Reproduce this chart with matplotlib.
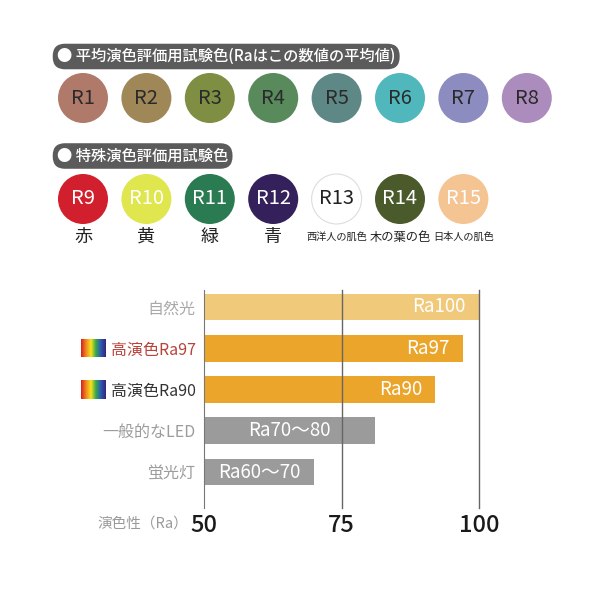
import matplotlib
matplotlib.use("Agg")
import matplotlib.pyplot as plt
from matplotlib.patches import Circle, Rectangle
from matplotlib.colors import LinearSegmentedColormap
from matplotlib.transforms import blended_transform_factory

plt.rcParams["font.family"] = ["Noto Sans CJK JP", "DejaVu Sans"]

# 上段: 平均演色評価用試験色
AVG_TITLE = "● 平均演色評価用試験色(Raはこの数値の平均値)"
AVG_LABELS = ["R1", "R2", "R3", "R4", "R5", "R6", "R7", "R8"]
AVG_COLORS = ["#b07a6a", "#a08758", "#7e8e42", "#588a5c",
              "#5e8886", "#50b8bc", "#8c8cc0", "#ac8cbc"]

# 中段: 特殊演色評価用試験色
SPECIAL_TITLE = "● 特殊演色評価用試験色"
SPECIAL_LABELS = ["R9", "R10", "R11", "R12", "R13", "R14", "R15"]
SPECIAL_COLORS = ["#d11f2d", "#dfe64e", "#2a7a52", "#34205a",
                  "#ffffff", "#4b5a2b", "#f5c493"]
SPECIAL_TEXT = ["white", "white", "white", "white", "#222222", "white", "white"]
SPECIAL_NAMES = ["赤", "黄", "緑", "青", "西洋人の肌色", "木の葉の色", "日本人の肌色"]

# 下段: 演色性の比較
SOURCES = ["自然光", "高演色Ra97", "高演色Ra90", "一般的なLED", "蛍光灯"]
RA_VALUES = [100, 97, 92, 81, 70]
VALUE_LABELS = ["Ra100", "Ra97", "Ra90", "Ra70〜80", "Ra60〜70"]
BAR_COLORS = ["#f1c97a", "#eba52b", "#eba52b", "#9b9b9b", "#9b9b9b"]
SOURCE_COLORS = ["#a9a9a9", "#b8433b", "#333333", "#9c9c9c", "#9c9c9c"]
HAS_RAINBOW = [False, True, True, False, False]
XTICKS = [50, 75, 100]
AXIS_LABEL = "演色性（Ra）"
RAINBOW = ["#d8281e", "#f08c1e", "#f4e21c", "#3aa848", "#2a5cb4", "#36287e"]

GRAY = "#9b9b9b"

fig = plt.figure(figsize=(6, 6), dpi=100)
bg = fig.add_axes([0, 0, 1, 1])
bg.set_xlim(0, 600)
bg.set_ylim(600, 0)
bg.axis("off")

pill = dict(boxstyle="round,pad=0.28,rounding_size=0.8", fc="#5b5b5b", ec="none")

# 上段
bg.text(57, 56.5, AVG_TITLE, color="white", fontsize=11, fontweight="medium",
        ha="left", va="center", bbox=pill)
for i, (lab, col) in enumerate(zip(AVG_LABELS, AVG_COLORS)):
    cx = 83 + 63.4 * i
    bg.add_patch(Circle((cx, 98), 25, fc=col, ec="none"))
    bg.text(cx, 98, lab, color="#2a2a2a", fontsize=14.5, ha="center", va="center")

# 中段
bg.text(57, 156, SPECIAL_TITLE, color="white", fontsize=11, fontweight="medium",
        ha="left", va="center", bbox=pill)
for i, (lab, col, tc, name) in enumerate(zip(SPECIAL_LABELS, SPECIAL_COLORS,
                                             SPECIAL_TEXT, SPECIAL_NAMES)):
    cx = 83 + 63.4 * i
    ec = "#dddddd" if col == "#ffffff" else "none"
    bg.add_patch(Circle((cx, 199), 25, fc=col, ec=ec, lw=0.8))
    bg.text(cx, 199, lab, color=tc, fontsize=14.5, ha="center", va="center")
    fs = 13 if len(name) == 1 else 44 / len(name)
    bg.text(cx, 237, name, color="#222222", fontsize=fs, ha="center", va="center")

# 下段: 棒グラフ
ax = fig.add_axes([204 / 600, 1 - 508 / 600, 275 / 600, 218 / 600])
ax.patch.set_alpha(0)
ypos = list(range(len(SOURCES)))
ax.barh(ypos, [v - 50 for v in RA_VALUES], left=50, height=0.65,
        color=BAR_COLORS, zorder=2)
ax.set_xlim(50, 100)
ax.set_ylim(4.87, -0.41)
for x in XTICKS[1:]:
    ax.axvline(x, color="#666666", lw=1, zorder=3, clip_on=False)
for s in ["top", "right", "bottom"]:
    ax.spines[s].set_visible(False)
ax.spines["left"].set_color("#777777")
ax.spines["left"].set_zorder(3)

ax.set_xticks(XTICKS)
ax.set_xticklabels([str(t) for t in XTICKS], fontsize=17, color="#1a1a1a",
                   fontweight="medium")
ax.set_yticks(ypos)
ax.set_yticklabels(SOURCES, fontsize=11.5)
for tl, c in zip(ax.get_yticklabels(), SOURCE_COLORS):
    tl.set_color(c)
ax.tick_params(axis="x", length=0, pad=4)
ax.tick_params(axis="y", length=0, pad=6)

for i, (v, lab, col) in enumerate(zip(RA_VALUES, VALUE_LABELS, BAR_COLORS)):
    if col == GRAY:
        ax.text((50 + v) / 2, i, lab, color="white", fontsize=13.5,
                ha="center", va="center", zorder=4)
    else:
        ax.annotate(lab, (v, i), xytext=(-13, 0), textcoords="offset pixels",
                    color="white", fontsize=13.5, ha="right", va="center", zorder=4)

# 虹色アイコン
cmap = LinearSegmentedColormap.from_list("rainbow_icon", RAINBOW)
blend = blended_transform_factory(bg.transData, ax.transData)
for i, flag in enumerate(HAS_RAINBOW):
    if not flag:
        continue
    for k in range(25):
        bg.add_patch(Rectangle((81 + k, i - 0.22), 1.05, 0.44,
                               fc=cmap(k / 24), ec="none", transform=blend))

bg.text(188, 524, AXIS_LABEL, color="#9a9a9a", fontsize=10.5, ha="right", va="center")

fig.savefig("out.png", dpi=100)
